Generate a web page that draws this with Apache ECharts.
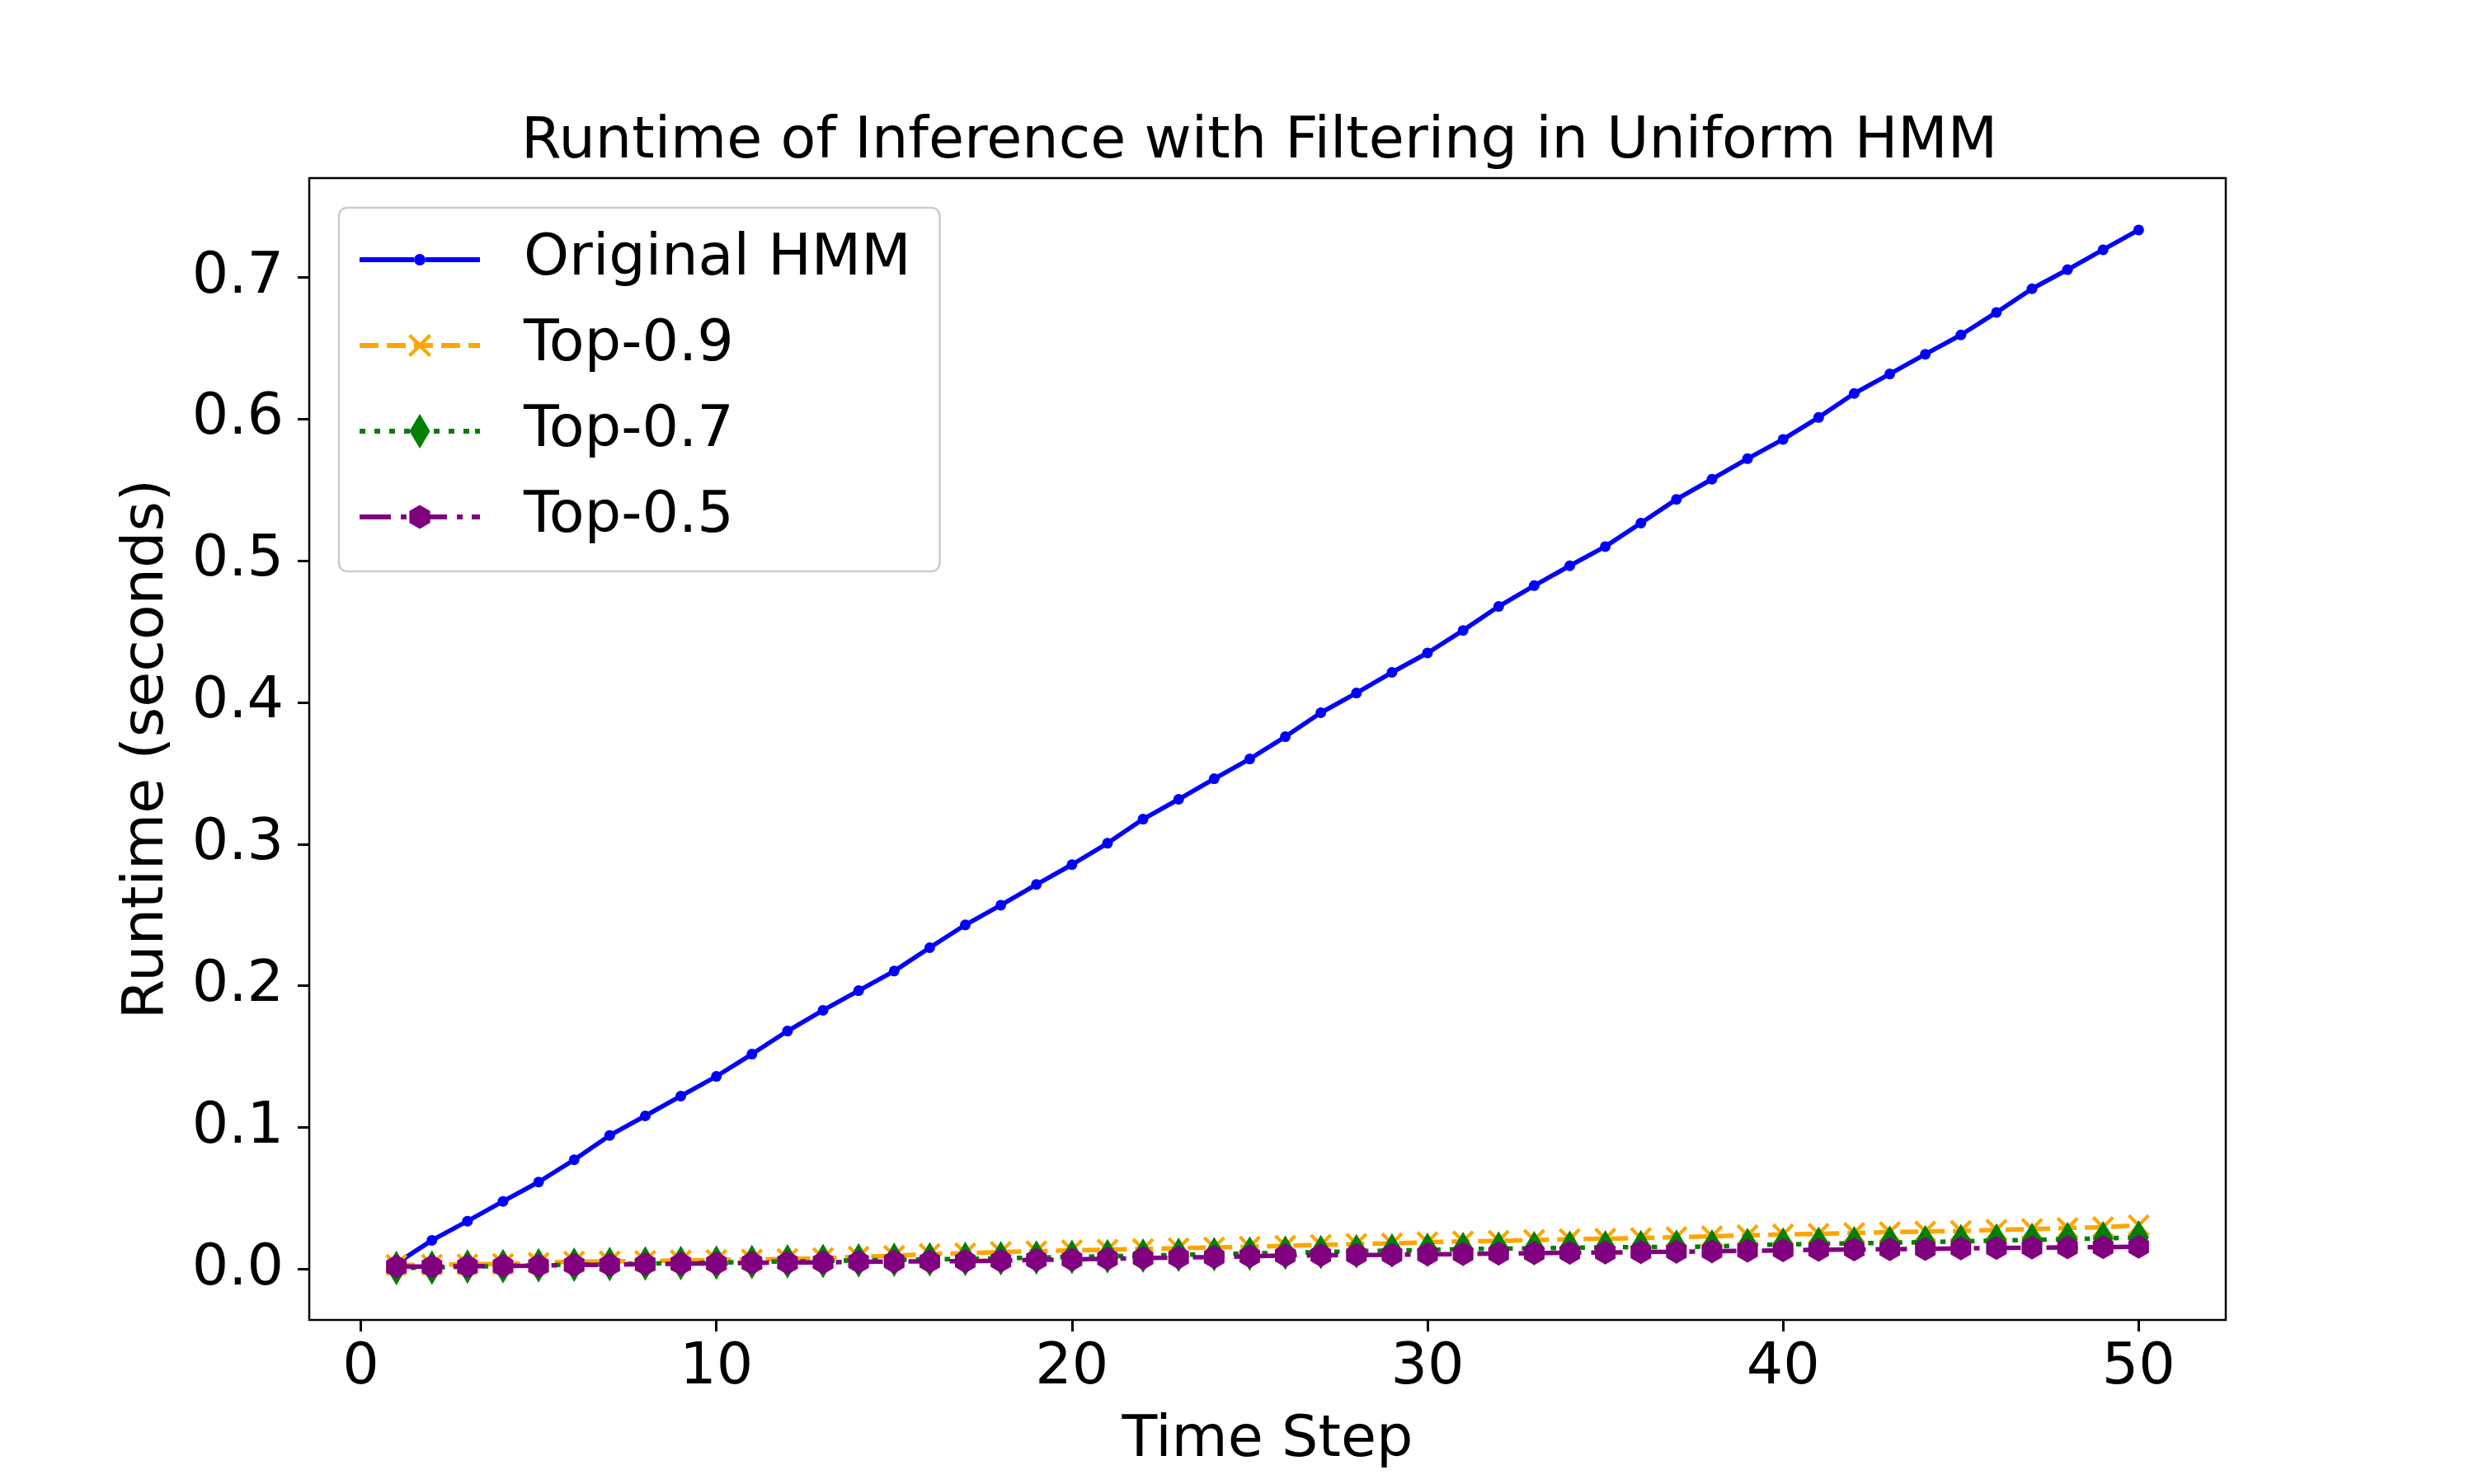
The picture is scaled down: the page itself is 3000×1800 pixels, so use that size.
<!DOCTYPE html>
<html>
<head>
<meta charset="utf-8">
<title>Runtime of Inference with Filtering in Uniform HMM</title>
<script src="https://cdn.jsdelivr.net/npm/echarts@6/dist/echarts.min.js"></script>
<style>
  html, body { margin: 0; padding: 0; background: #fff; }
  #chart { width: 3000px; height: 1800px; }
</style>
</head>
<body>
<div id="chart"></div>
<script>
const timeSteps = [1, 2, 3, 4, 5, 6, 7, 8, 9, 10,
  11, 12, 13, 14, 15, 16, 17, 18, 19, 20,
  21, 22, 23, 24, 25, 26, 27, 28, 29, 30,
  31, 32, 33, 34, 35, 36, 37, 38, 39, 40,
  41, 42, 43, 44, 45, 46, 47, 48, 49, 50]

const originalHmm = [0.0040, 0.0204, 0.0339, 0.0479, 0.0615, 0.0772, 0.0944, 0.1082, 0.1222, 0.1361,
  0.1518, 0.1681, 0.1827, 0.1966, 0.2104, 0.2269, 0.2430, 0.2569, 0.2715, 0.2855,
  0.3006, 0.3176, 0.3316, 0.3461, 0.3601, 0.3758, 0.3927, 0.4066, 0.4212, 0.4349,
  0.4508, 0.4677, 0.4824, 0.4964, 0.5100, 0.5265, 0.5433, 0.5575, 0.5720, 0.5856,
  0.6011, 0.6180, 0.6318, 0.6457, 0.6593, 0.6752, 0.6919, 0.7054, 0.7194, 0.7334]

const top09 = [0.0030, 0.0032, 0.0035, 0.0037, 0.0045, 0.0053, 0.0055, 0.0058, 0.0062, 0.0065,
  0.0068, 0.0072, 0.0078, 0.0088, 0.0095, 0.0108, 0.0112, 0.0122, 0.0127, 0.0133,
  0.0138, 0.0143, 0.0148, 0.0154, 0.0158, 0.0165, 0.0172, 0.0178, 0.0182, 0.0190,
  0.0196, 0.0200, 0.0206, 0.0212, 0.0215, 0.0220, 0.0226, 0.0232, 0.0240, 0.0245,
  0.0250, 0.0256, 0.0262, 0.0266, 0.0270, 0.0277, 0.0283, 0.0290, 0.0296, 0.0310]

const top07 = [0.0008, 0.0012, 0.0018, 0.0022, 0.0028, 0.0032, 0.0036, 0.0040, 0.0044, 0.0047,
  0.0051, 0.0055, 0.0058, 0.0062, 0.0066, 0.0070, 0.0073, 0.0077, 0.0082, 0.0087,
  0.0091, 0.0096, 0.0101, 0.0106, 0.0111, 0.0116, 0.0121, 0.0127, 0.0132, 0.0136,
  0.0142, 0.0145, 0.0148, 0.0151, 0.0154, 0.0156, 0.0158, 0.0160, 0.0170, 0.0174,
  0.0179, 0.0183, 0.0187, 0.0191, 0.0197, 0.0202, 0.0207, 0.0212, 0.0218, 0.0224]

const top05 = [0.0019, 0.0019, 0.0020, 0.0023, 0.0025, 0.0030, 0.0031, 0.0036, 0.0039, 0.0040,
  0.0045, 0.0047, 0.0048, 0.0052, 0.0054, 0.0055, 0.0057, 0.0060, 0.0066, 0.0068,
  0.0074, 0.0078, 0.0083, 0.0086, 0.0091, 0.0097, 0.0098, 0.0100, 0.0102, 0.0105,
  0.0107, 0.0110, 0.0113, 0.0116, 0.0118, 0.0121, 0.0123, 0.0126, 0.0130, 0.0133,
  0.0137, 0.0139, 0.0141, 0.0143, 0.0146, 0.0150, 0.0152, 0.0154, 0.0156, 0.0159]

const xTicks = [0, 10, 20, 30, 40, 50]
const yTicks = [0, 0.1, 0.2, 0.3, 0.4, 0.5, 0.6, 0.7]

const FONT = 'DejaVu Sans'

// marker shapes (matplotlib 'x' and 'h')
const xMarker = 'path://M0,3 L3,0 L27,24 L24,27 Z M24,0 L27,3 L3,27 L0,24 Z'
const hexMarker = 'path://M50,0 L93.3,25 L93.3,75 L50,100 L6.7,75 L6.7,25 Z'

// legend handles: line pattern + marker drawn as one filled path
const legendIcons = {
  blue: 'path://M0,4 L66,4 L66,10 L0,10 Z M80,4 L146,4 L146,10 L80,10 Z M66,7 A7,7 0 1,1 80,7 A7,7 0 1,1 66,7 Z',
  orange: 'path://M0,11 L23,11 L23,17 L0,17 Z M33,11 L56,11 L56,17 L33,17 Z M66,11 L89,11 L89,17 L66,17 Z ' +
    'M99,11 L122,11 L122,17 L99,17 Z M132,11 L146,11 L146,17 L132,17 Z ' +
    'M59,3 L62,0 L87,25 L84,28 Z M84,0 L87,3 L62,28 L59,25 Z',
  green: 'path://M0,18 L7,18 L7,24 L0,24 Z M18,18 L25,18 L25,24 L18,24 Z M36,18 L43,18 L43,24 L36,24 Z ' +
    'M54,18 L61,18 L61,24 L54,24 Z M90,18 L97,18 L97,24 L90,24 Z M108,18 L115,18 L115,24 L108,24 Z ' +
    'M126,18 L133,18 L133,24 L126,24 Z M140,18 L146,18 L146,24 L140,24 Z M73,0 L85.5,21 L73,42 L60.5,21 Z',
  purple: 'path://M0,11.5 L38,11.5 L38,17.5 L0,17.5 Z M50,11.5 L57,11.5 L57,17.5 L50,17.5 Z ' +
    'M68,11.5 L106,11.5 L106,17.5 L68,17.5 Z M118,11.5 L125,11.5 L125,17.5 L118,17.5 Z ' +
    'M136,11.5 L146,11.5 L146,17.5 L136,17.5 Z M73,0 L85.6,7.25 L85.6,21.75 L73,29 L60.4,21.75 L60.4,7.25 Z'
}

function pairs (values) {
  return timeSteps.map((t, i) => [t, values[i]])
}

const chart = echarts.init(document.getElementById('chart'), null, { renderer: 'canvas' })

chart.setOption({
  animation: false,
  backgroundColor: '#fff',
  title: {
    text: 'Runtime of Inference with Filtering in Uniform HMM',
    left: 632,
    top: 138,
    padding: 0,
    textStyle: {
      fontFamily: FONT,
      fontSize: 70,
      fontWeight: 'normal',
      color: '#000'
    }
  },
  grid: {
    left: 375,
    right: 301,
    top: 216,
    bottom: 199,
    show: true,
    borderColor: '#000',
    borderWidth: 2.5,
    backgroundColor: 'transparent'
  },
  legend: {
    orient: 'vertical',
    left: 411,
    top: 252,
    padding: [28, 35, 31, 25],
    itemGap: 34,
    itemWidth: 146,
    itemHeight: 42,
    selectedMode: false,
    backgroundColor: '#fff',
    borderColor: '#cccccc',
    borderWidth: 2.5,
    borderRadius: 10,
    itemStyle: { borderWidth: 0 },
    textStyle: {
      fontFamily: FONT,
      fontSize: 70,
      color: '#000',
      padding: [0, 0, 0, 48]
    },
    data: [
      { name: 'Original HMM', icon: legendIcons.blue },
      { name: 'Top-0.9', icon: legendIcons.orange },
      { name: 'Top-0.7', icon: legendIcons.green },
      { name: 'Top-0.5', icon: legendIcons.purple }
    ]
  },
  xAxis: {
    type: 'value',
    min: -1.45,
    max: 52.45,
    name: 'Time Step',
    nameLocation: 'middle',
    nameGap: 112,
    nameTextStyle: { fontFamily: FONT, fontSize: 70, color: '#000' },
    axisLine: { show: false, onZero: false },
    splitLine: { show: false },
    axisTick: {
      show: true,
      inside: false,
      length: 14,
      customValues: xTicks,
      lineStyle: { color: '#000', width: 3 }
    },
    axisLabel: {
      customValues: xTicks,
      margin: 24,
      fontFamily: FONT,
      fontSize: 70,
      color: '#000'
    }
  },
  yAxis: {
    type: 'value',
    min: -0.0358,
    max: 0.770,
    name: 'Runtime (seconds)',
    nameLocation: 'middle',
    nameGap: 161,
    nameTextStyle: { fontFamily: FONT, fontSize: 70, color: '#000' },
    axisLine: { show: false, onZero: false },
    splitLine: { show: false },
    axisTick: {
      show: true,
      inside: false,
      length: 14,
      customValues: yTicks,
      lineStyle: { color: '#000', width: 3 }
    },
    axisLabel: {
      customValues: yTicks,
      margin: 31,
      fontFamily: FONT,
      fontSize: 70,
      color: '#000',
      formatter: v => v.toFixed(1)
    }
  },
  series: [
    {
      name: 'Original HMM',
      type: 'line',
      z: 2,
      data: pairs(originalHmm),
      symbol: 'circle',
      symbolSize: 13,
      itemStyle: { color: '#0000ff' },
      lineStyle: { color: '#0000ff', width: 5.5 }
    },
    {
      name: 'Top-0.9',
      type: 'line',
      z: 3,
      data: pairs(top09),
      symbol: xMarker,
      symbolSize: 27,
      itemStyle: { color: '#ffa500' },
      lineStyle: { color: '#ffa500', width: 5.5, type: [22, 10], cap: 'butt' }
    },
    {
      name: 'Top-0.7',
      type: 'line',
      z: 4,
      data: pairs(top07),
      symbol: 'diamond',
      symbolSize: [25, 42],
      itemStyle: { color: '#008000' },
      lineStyle: { color: '#008000', width: 5.5, type: [6.5, 11], cap: 'butt' }
    },
    {
      name: 'Top-0.5',
      type: 'line',
      z: 5,
      data: pairs(top05),
      symbol: hexMarker,
      symbolSize: [25, 29],
      itemStyle: { color: '#800080' },
      lineStyle: { color: '#800080', width: 5.5, type: [38, 12, 7, 12], cap: 'butt' }
    }
  ]
})
</script>
</body>
</html>
